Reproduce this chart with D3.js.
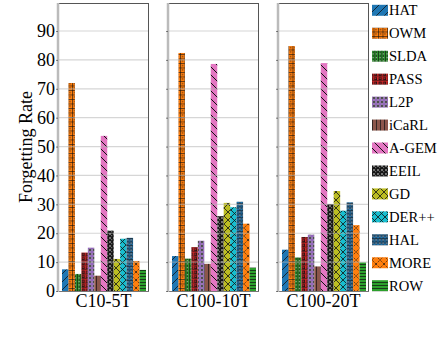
<!DOCTYPE html>
<html><head><meta charset="utf-8">
<script src="https://cdn.jsdelivr.net/npm/d3@7"></script>
</head><body style="margin:0;background:#fff"><svg id="c" width="438" height="342" style="display:block;font-family:'Liberation Serif'"></svg>
<script>
const datasets = ["C10-5T","C100-10T","C100-20T"];
const methods = ["HAT","OWM","SLDA","PASS","L2P","iCaRL","A-GEM","EEIL","GD","DER++","HAL","MORE","ROW"];
const colors = ["#1f77b4","#ff7f0e","#2ca02c","#d62728","#9467bd","#8c564b","#e377c2","#7f7f7f","#bcbd22","#17becf","#1f77b4","#ff7f0e","#2ca02c"];
const valuesC10_5T   = [7.5, 72.0, 5.9, 13.3, 15.0, 5.3, 53.7, 20.9, 11.1, 18.1, 18.4, 10.4, 7.3];
const valuesC100_10T = [12.1, 82.4, 11.2, 15.2, 17.4, 9.4, 78.6, 25.9, 30.5, 29.0, 30.9, 23.3, 8.1];
const valuesC100_20T = [14.3, 84.8, 11.6, 18.7, 19.5, 8.5, 78.9, 30.1, 34.6, 27.8, 30.7, 22.8, 9.9];
const seriesValues = [valuesC10_5T, valuesC100_10T, valuesC100_20T];
const yTicks = [0,10,20,30,40,50,60,70,80,90];
const yLabel = "Forgetting Rate";

const FONT = "Liberation Serif";
const svg = d3.select("#c");
const defs = svg.append("defs");

function pat(id, size, color, draw){
  const p = defs.append("pattern").attr("id", id).attr("patternUnits","userSpaceOnUse")
    .attr("width", size).attr("height", size);
  p.append("rect").attr("width", size).attr("height", size).attr("fill", color);
  draw(p, size);
}
const K = "#111";
const drawers = {
  "HAT": (p,s)=>{ p.append("path").attr("d",`M0,${s} L${s},0 M${-s/2},${s/2} L${s/2},${-s/2} M${s/2},${s*1.5} L${s*1.5},${s/2}`).attr("stroke",K).attr("stroke-width",0.8); },
  "OWM": (p,s)=>{ p.append("path").attr("d",`M0,0.5 H${s} M0.5,0 V${s}`).attr("stroke",K).attr("stroke-width",0.6);
                  p.append("rect").attr("x",s/2-0.2).attr("y",s/2-0.2).attr("width",1).attr("height",1).attr("fill",K); },
  "SLDA": (p,s)=>{ p.append("path").attr("d",`M0.5,0 V${s} M${s/2+0.5},0 V${s}`).attr("stroke",K).attr("stroke-width",0.7);
                   p.append("rect").attr("x",1.5).attr("y",1).attr("width",1).attr("height",1).attr("fill","#ddd"); },
  "PASS": (p,s)=>{ p.append("rect").attr("x",1).attr("y",1).attr("width",2.2).attr("height",2.2).attr("fill","none").attr("stroke",K).attr("stroke-width",0.8);
                   p.append("path").attr("d",`M0,${s-0.5} H${s}`).attr("stroke",K).attr("stroke-width",0.5); },
  "L2P": (p,s)=>{ p.append("circle").attr("cx",s/2).attr("cy",s/2).attr("r",1.3).attr("fill","#222").attr("stroke","#ccc").attr("stroke-width",0.4); },
  "iCaRL": (p,s)=>{ p.append("path").attr("d",`M0.5,0 V${s}`).attr("stroke",K).attr("stroke-width",0.7); },
  "A-GEM": (p,s)=>{ p.append("path").attr("d",`M0,0 L${s},${s} M${-s/2},${s/2} L${s/2},${s*1.5} M${s/2},${-s/2} L${s*1.5},${s/2}`).attr("stroke",K).attr("stroke-width",1); },
  "EEIL": (p,s)=>{ p.append("circle").attr("cx",s/2).attr("cy",s/2).attr("r",1.6).attr("fill","none").attr("stroke",K).attr("stroke-width",1);
                   p.append("path").attr("d",`M0,0.4 H${s} M0.4,0 V${s}`).attr("stroke",K).attr("stroke-width",0.8); },
  "GD": (p,s)=>{ p.append("path").attr("d",`M0,0 L${s},${s} M0,${s} L${s},0`).attr("stroke",K).attr("stroke-width",0.8); },
  "DER++": (p,s)=>{ p.append("path").attr("d",`M0,0 L${s},${s} M0,${s} L${s},0`).attr("stroke",K).attr("stroke-width",0.8); },
  "HAL": (p,s)=>{ p.append("circle").attr("cx",s/2).attr("cy",s/2).attr("r",1.1).attr("fill","#9cc8ee").attr("stroke",K).attr("stroke-width",0.6);
                  p.append("path").attr("d",`M0,0.4 H${s}`).attr("stroke",K).attr("stroke-width",0.5); },
  "MORE": (p,s)=>{ p.append("path").attr("d",`M0,0 L${s},${s} M0,${s} L${s},0`).attr("stroke",K).attr("stroke-width",0.7).attr("stroke-dasharray","1.5,1"); },
  "ROW": (p,s)=>{ p.append("path").attr("d",`M0,0.5 H${s}`).attr("stroke",K).attr("stroke-width",0.7); }
};
const sizes = {"HAT":8,"OWM":4.5,"SLDA":3.5,"PASS":4.5,"L2P":4,"iCaRL":4,"A-GEM":8,"EEIL":4,"GD":8,"DER++":7,"HAL":3.5,"MORE":8,"ROW":3};
methods.forEach((m,i)=> pat("p"+i, sizes[m], colors[i], drawers[m]));

const panelX = d3.scaleBand().domain(datasets).range([58, 369]).paddingInner(19/110).paddingOuter(0);
const yMax = 99.7;
const y = d3.scaleLinear().domain([0, yMax]).range([291, 3]);
const bw = panelX.bandwidth();

datasets.forEach((ds, di) => {
  const x0 = panelX(ds);
  const g = svg.append("g");
  const xb = d3.scaleBand().domain(methods).range([x0 + 4, x0 + bw - 3]).padding(0);
  g.selectAll("rect.bar").data(seriesValues[di]).join("rect")
    .attr("x", (d,i)=> xb(methods[i]))
    .attr("width", xb.bandwidth())
    .attr("y", d => y(d))
    .attr("height", d => y(0) - y(d))
    .attr("fill", (d,i)=> `url(#p${i})`);
  g.selectAll("line.grid").data(yTicks.filter(t=>t>0)).join("line")
    .attr("x1", x0).attr("x2", x0 + bw)
    .attr("y1", d=> y(d)).attr("y2", d=> y(d))
    .attr("stroke", "rgba(180,180,180,0.55)").attr("stroke-width", 1.2);
  g.append("line").attr("x1", x0).attr("x2", x0+bw).attr("y1", y(yMax)+0.5).attr("y2", y(yMax)+0.5).attr("stroke","#555").attr("stroke-width",1);
  g.append("line").attr("x1", x0+bw-0.5).attr("x2", x0+bw-0.5).attr("y1", y(yMax)).attr("y2", y(0)+1).attr("stroke","#555").attr("stroke-width",1);
  g.append("line").attr("x1", x0).attr("x2", x0+bw).attr("y1", y(0)+0.5).attr("y2", y(0)+0.5).attr("stroke","#777").attr("stroke-width",1);
  const ax = d3.axisLeft(y).tickValues(yTicks).tickSize(2).tickPadding(1)
    .tickFormat(di === 0 ? d3.format("d") : () => "");
  const ag = svg.append("g").attr("transform", `translate(${x0},0)`).call(ax);
  ag.attr("font-family", null).attr("font-size", null);
  ag.select(".domain").attr("stroke","#bbb").attr("stroke-width",2.5).attr("d", `M0,${y(0)+1}V${y(yMax)}`);
  ag.selectAll(".tick line").attr("stroke","#333").attr("stroke-width",0.6);
  ag.selectAll(".tick text").style("font-family",FONT).style("font-size","18px").attr("fill","#000");
  svg.append("text").attr("x", x0 + bw/2).attr("y", 307).attr("text-anchor","middle")
    .style("font-family",FONT).style("font-size","18px").text(ds);
});

svg.append("text").attr("transform","translate(32,147) rotate(-90)").attr("text-anchor","middle")
  .style("font-family",FONT).style("font-size","18px").text(yLabel);

const lg = svg.append("g");
const ly = d3.scalePoint().domain(methods).range([10.3, 285.7]);
methods.forEach((m,i)=>{
  lg.append("rect").attr("x",372).attr("y", ly(m)-5.5).attr("width",16).attr("height",11).attr("fill",`url(#p${i})`);
  lg.append("text").attr("x",389).attr("y", ly(m)+5).style("font-family",FONT).style("font-size","14.6px").text(m);
});
</script></body></html>
